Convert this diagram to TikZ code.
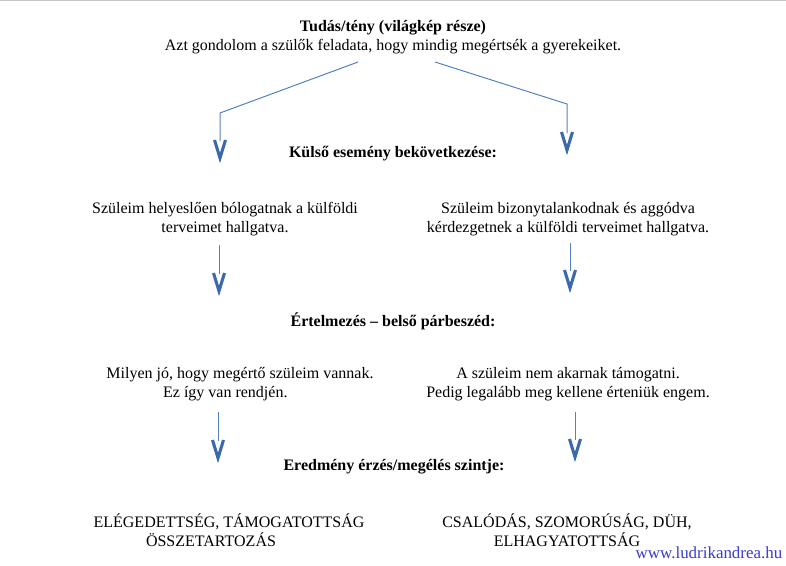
\documentclass[tikz,border=0pt]{standalone}
\usepackage{fontspec}
\setmainfont{Liberation Serif}
\usepackage{xcolor}
\usepackage{tikz}
\usetikzlibrary{arrows.meta}
\definecolor{linkblue}{RGB}{84,130,192}
\definecolor{headblue}{RGB}{60,104,172}
\definecolor{webblue}{RGB}{58,58,204}
\tikzset{
  font=\fontsize{12}{14}\selectfont,         % Times-like text everywhere
  txt/.style      = {align=center, inner sep=0pt},
  heading/.style  = {font=\fontsize{12}{14}\selectfont\bfseries, inner sep=0pt},
  weblink/.style  = {text=webblue, font=\fontsize{12.7}{14}\selectfont, inner sep=0pt},
  link/.style     = {draw=linkblue, line width=0.75pt, shorten >=16.5pt},
  vhead/.pic      = {\draw[headblue, line width=2.3pt] (-5.5,-23) -- (0,-5) -- (5.5,-23);}
}

\begin{document}
\begin{tikzpicture}[x=0.75pt, y=-0.75pt]
  \useasboundingbox (0,0) rectangle (786,565);
  \draw[gray!45] (0,0.6) -- (786,0.6);
  % texts
  \node[txt] (fact) at (393,37) {\textbf{Tudás/tény (világkép része)}\\Azt gondolom a szülők feladata, hogy mindig megértsék a gyerekeiket.};
  \node[heading] (event) at (393,154) {Külső esemény bekövetkezése:};
  \node[txt] (evleft) at (225,219) {Szüleim helyeslően bólogatnak a külföldi\\terveimet hallgatva.};
  \node[txt] (evright) at (568,219) {Szüleim bizonytalankodnak és aggódva\\kérdezgetnek a külföldi terveimet hallgatva.};
  \node[heading] (interp) at (393,321) {Értelmezés -- belső párbeszéd:};
  \node[txt] (inleft) at (240,384) {Milyen jó, hogy megértő szüleim vannak.\\Ez így van rendjén.\hspace*{22pt}};
  \node[txt] (inright) at (568,384) {A szüleim nem akarnak támogatni.\\Pedig legalább meg kellene érteniük engem.};
  \node[heading] (result) at (394,467) {Eredmény érzés/megélés szintje:};
  \node[txt] (resleft) at (229,530) {ELÉGEDETTSÉG, TÁMOGATOTTSÁG\\ÖSSZETARTOZÁS\hspace*{27pt}};
  \node[txt] (resright) at (567,530) {CSALÓDÁS, SZOMORÚSÁG, DÜH,\\ELHAGYATOTTSÁG};
  \node[weblink] (web) at (709,553) {www.ludrikandrea.hu};
  % connectors
  \coordinate (s1) at (358,62);  \coordinate (k1) at (220,113); \coordinate (t1) at (220,163);
  \coordinate (s2) at (435,62);  \coordinate (k2) at (567,104); \coordinate (t2) at (567,155);
  \coordinate (s3) at (219,245); \coordinate (t3) at (219,296);
  \coordinate (s4) at (570,243); \coordinate (t4) at (570,293);
  \coordinate (s5) at (218,412); \coordinate (t5) at (218,463);
  \coordinate (s6) at (575,412); \coordinate (t6) at (575,462);
  \draw[link] (s1) -- (k1) -- (t1);
  \draw[link] (s2) -- (k2) -- (t2);
  \draw[link] (s3) -- (t3);
  \draw[link] (s4) -- (t4);
  \draw[link] (s5) -- (t5);
  \draw[link] (s6) -- (t6);
  \pic at (t1) {vhead};
  \pic at (t2) {vhead};
  \pic at (t3) {vhead};
  \pic at (t4) {vhead};
  \pic at (t5) {vhead};
  \pic at (t6) {vhead};
\end{tikzpicture}
\end{document}
